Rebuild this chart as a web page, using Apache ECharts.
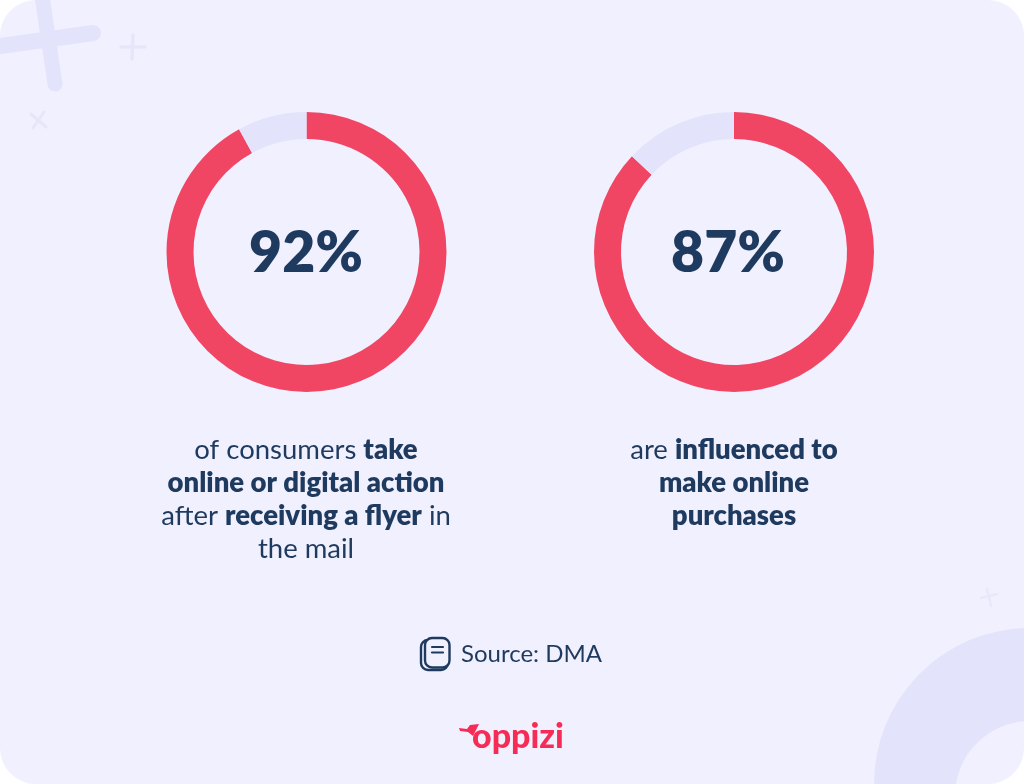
<!DOCTYPE html>
<html><head><meta charset="utf-8">
<style>html,body{margin:0;padding:0;background:#fff}#c{width:1024px;height:784px}</style>
<script src="https://cdn.jsdelivr.net/npm/echarts@6/dist/echarts.min.js"></script>
</head><body><div id="c"></div>
<script>
const categories = ['Yes', 'Other'];
const valuesLeft = [92, 8];
const valuesRight = [87, 13];
const percentLabels = ['92%', '87%'];
const captionLeft = '{r|of consumers }{b|take}\n{b|online or digital action}\n{r|after }{b|receiving a flyer}{r| in}\n{r|the mail}';
const captionRight = '{r|are }{b|influenced to}\n{b|make online}\n{b|purchases}';
const sourceText = 'Source: DMA';
const logoText = 'oppizi';

const RED = '#f04663', LIGHT = '#e3e3fb', BG = '#f0f0ff', INK = '#1f3a5f', FONT = 'Lato';
const pie = (cx, vals) => ({
  type: 'pie', center: [cx, 252], radius: [113, 140], startAngle: 90, clockwise: true,
  silent: true, animation: false, z: 1,
  data: categories.map((n, i) => ({ name: n, value: vals[i], itemStyle: { color: i ? LIGHT : RED } })),
  label: { show: false }, labelLine: { show: false }
});
const line = (x1, y1, x2, y2, w, c) => ({ type: 'line', shape: { x1, y1, x2, y2 }, style: { stroke: c || LIGHT, lineWidth: w, lineCap: 'round' } });
const rich = {
  r: { font: '400 27.5px ' + FONT, fill: INK, lineHeight: 33 },
  b: { font: '800 27.5px ' + FONT, fill: INK, lineHeight: 33 }
};
const caption = (x, text) => ({ type: 'text', x, y: 434, style: { text, align: 'center', verticalAlign: 'top', rich, lineHeight: 33 } });
const pct = (x, text) => ({ type: 'text', x, y: 254, style: { text, align: 'center', verticalAlign: 'middle', font: '800 57px ' + FONT, fill: INK } });

const chart = echarts.init(document.getElementById('c'), null, { renderer: 'canvas', width: 1024, height: 784 });
chart.setOption({
  backgroundColor: BG,
  animation: false,
  graphic: { elements: [
    line(-6, 47, 93, 33, 16), line(42, -4, 55, 84, 15),
    line(121, 47, 145, 47, 3.5, '#e6e6fb'), line(133, 35, 132, 59, 3.5, '#e6e6fb'),
    line(31, 114, 46, 127, 3, '#e6e6fb'), line(33, 128, 44, 112, 3, '#e6e6fb'),
    line(981, 598, 997, 594, 2.5, '#e8e8fb'), line(987, 589, 991, 606, 2.5, '#e8e8fb'),
    { type: 'circle', shape: { cx: 1030, cy: 784, r: 156 }, style: { fill: LIGHT } },
    { type: 'circle', shape: { cx: 1030, cy: 796, r: 75 }, style: { fill: BG } },
    { type: 'rect', shape: { x: -20, y: -20, width: 1064, height: 824, r: 56 }, style: { fill: 'none', stroke: '#fff', lineWidth: 40 } },
    pct(306, percentLabels[0]), pct(728, percentLabels[1]),
    caption(306, captionLeft), caption(734, captionRight),
    { type: 'rect', shape: { x: 421, y: 640, width: 27, height: 30, r: 7 }, style: { fill: 'none', stroke: INK, lineWidth: 2.4 } },
    { type: 'rect', shape: { x: 425, y: 638, width: 24.5, height: 29.5, r: 7 }, style: { fill: BG, stroke: INK, lineWidth: 2.4 } },
    line(432, 647, 443, 647, 2.2, INK), line(432, 652.5, 443, 652.5, 2.2, INK),
    { type: 'text', x: 461, y: 654, style: { text: sourceText, align: 'left', verticalAlign: 'middle', font: '400 24px ' + FONT, fill: INK } },
    { type: 'text', x: 518, y: 737, style: { text: logoText, align: 'center', verticalAlign: 'middle', font: '900 34px ' + FONT, fill: '#f62c56' } },
    { type: 'polygon', shape: { points: [[459, 728], [467, 729], [470, 725], [479, 724], [473, 736], [468, 732], [460, 731]] }, style: { fill: '#f62c56' } }
  ] },
  series: [pie(306.5, valuesLeft), pie(734, valuesRight)]
});
</script></body></html>
